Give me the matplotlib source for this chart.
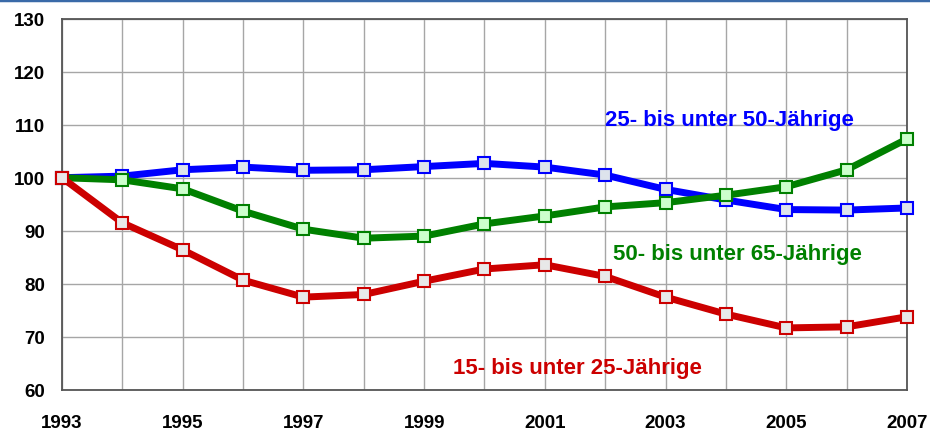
import matplotlib
matplotlib.use("Agg")
import matplotlib.pyplot as plt
from matplotlib.lines import Line2D

plt.rcParams['font.family'] = ['Liberation Sans', 'DejaVu Sans']

years = list(range(1993, 2008))
age_25_50 = [100, 100.3, 101.5, 102.0, 101.4, 101.5, 102.1, 102.7, 102.0, 100.5, 97.8, 95.8, 94.0, 93.9, 94.3]
age_50_65 = [100, 99.6, 97.9, 93.7, 90.3, 88.6, 89.0, 91.3, 92.8, 94.5, 95.3, 96.7, 98.3, 101.5, 107.3]
age_15_25 = [100, 91.5, 86.4, 80.7, 77.5, 78.0, 80.5, 82.8, 83.6, 81.4, 77.5, 74.3, 71.7, 71.9, 73.8]
xtick_labels = ['1993', '1995', '1997', '1999', '2001', '2003', '2005', '2007']
yticks = [60, 70, 80, 90, 100, 110, 120, 130]

fig = plt.figure(figsize=(9.30, 4.31), dpi=100)
ax = fig.add_axes([62/930, 1 - 391/431, (907-62)/930, (391-19.5)/431])

series = [
    (age_25_50, '#0000ff', '#dde3ec'),
    (age_50_65, '#008000', '#ccffcc'),
    (age_15_25, '#cc0000', '#e8e8e8'),
]
for vals, col, face in series:
    ax.plot(years, vals, color=col, lw=5, marker='s', markersize=9,
            markerfacecolor=face, markeredgecolor=col, markeredgewidth=1.5,
            zorder=3, clip_on=False, solid_joinstyle='round')

ax.set_xlim(1993, 2007)
ax.set_ylim(60, 130)
ax.set_xticks(years)
ax.set_xticklabels([str(y) if (y - 1993) % 2 == 0 else '' for y in years])
ax.set_yticks(yticks)
ax.tick_params(length=0, labelsize=13.5)
ax.tick_params(axis='y', pad=12)
ax.tick_params(axis='x', pad=17)
for lab in ax.get_xticklabels() + ax.get_yticklabels():
    lab.set_fontweight('bold')
ax.grid(True, color='#a6a6a6', lw=1)
ax.set_axisbelow(True)
for s in ax.spines.values():
    s.set_color('#555555')
    s.set_linewidth(1.3)

ax.text(2002.0, 110.9, '25- bis unter 50-Jährige', color='#0000ff', fontsize=16, fontweight='bold', va='center', ha='left')
ax.text(2002.13, 85.8, '50- bis unter 65-Jährige', color='#008000', fontsize=16, fontweight='bold', va='center', ha='left')
ax.text(1999.48, 64.2, '15- bis unter 25-Jährige', color='#cc0000', fontsize=16, fontweight='bold', va='center', ha='left')

fig.add_artist(Line2D([0, 1], [1 - 1/431, 1 - 1/431], color='#3a6aa8', lw=2.5, transform=fig.transFigure))

fig.savefig('out.png', dpi=100)
